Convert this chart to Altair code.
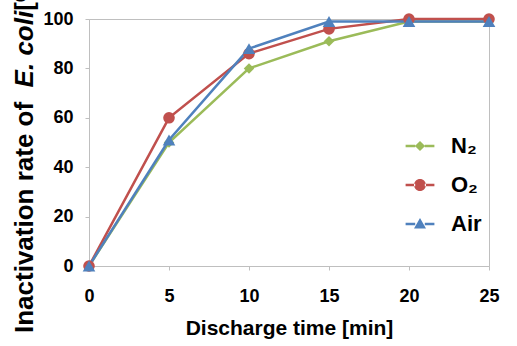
import altair as alt
import pandas as pd

# ---- data ----
series = ["N₂", "O₂", "Air"]
times = [0, 5, 10, 15, 20, 25]
n2_vals = [0, 50, 80, 91, 99, 99]
o2_vals = [0, 60, 86, 96, 100, 100]
air_vals = [0, 51, 88, 99, 99, 99]
colors = ["#9BBB59", "#C0504D", "#4F81BD"]
x_ticks = [0, 5, 10, 15, 20, 25]
y_ticks = [0, 20, 40, 60, 80, 100]
x_title = "Discharge time [min]"
y_title_parts = ["Inactivation rate  of ", "E. coli", " [%]"]

FONT = "Liberation Sans, Arial, sans-serif"

rows = []
for s, vals in zip(series, [n2_vals, o2_vals, air_vals]):
    for t, v in zip(times, vals):
        rows.append({"series": s, "time": t, "value": v})
df = pd.DataFrame(rows)

x_enc = alt.X(
    "time:Q",
    scale=alt.Scale(domain=[0, 25], nice=False),
    axis=alt.Axis(values=x_ticks, title=x_title, tickSize=4, labelPadding=17,
                  titleBaseline="alphabetic", titleY=68, labelFlush=False),
)
y_enc = alt.Y(
    "value:Q",
    scale=alt.Scale(domain=[0, 100], nice=False),
    axis=alt.Axis(values=y_ticks, title=None, tickSize=4, labelPadding=12, labelFlush=False),
)
color_scale = alt.Scale(domain=series, range=colors)

lines = alt.Chart(df).mark_line(strokeWidth=2.5).encode(
    x=x_enc, y=y_enc,
    color=alt.Color("series:N", scale=color_scale, legend=None),
)

points = alt.Chart(df).mark_point(filled=True, opacity=1).encode(
    x=x_enc, y=y_enc,
    color=alt.Color("series:N", scale=color_scale, legend=None),
    shape=alt.Shape("series:N", scale=alt.Scale(domain=series, range=["diamond", "circle", "triangle-up"]), legend=None),
    size=alt.Size("series:N", scale=alt.Scale(domain=series, range=[110, 160, 170]), legend=None),
)

# legend symbols: short line segment + marker
seg = "M-2.4,-0.2 H-0.8 V0.2 H-2.4 Z M0.8,-0.2 H2.4 V0.2 H0.8 Z "
legend_paths = [
    seg + "M0,-0.85 L0.85,0 L0,0.85 L-0.85,0 Z",
    seg + "M-1,0 A1,1 0 1,0 1,0 A1,1 0 1,0 -1,0 Z",
    seg + "M0,-1 L1,0.75 L-1,0.75 Z",
]
leg = alt.Legend(
    title=None, orient="none", legendX=320, legendY=116, symbolSize=144,
    symbolStrokeWidth=0, labelFont=FONT, labelFontSize=22, labelFontWeight="bold",
    labelColor="black", labelOffset=20, rowPadding=17, padding=0, symbolOpacity=1,
)
legend_layer = alt.Chart(df).transform_filter("false").mark_point(filled=True, opacity=1).encode(
    x=x_enc, y=y_enc,
    color=alt.Color("series:N", scale=color_scale, legend=leg),
    shape=alt.Shape("series:N", scale=alt.Scale(domain=series, range=legend_paths), legend=leg),
)

# y-axis title with italic "E. coli"
title_y = [314, 314 - 245.6, 314 - 245.6 - 76.6]
title_styles = ["normal", "italic", "normal"]
title_layers = []
for part, ypos, style in zip(y_title_parts, title_y, title_styles):
    title_layers.append(
        alt.Chart(pd.DataFrame({"t": [part]})).mark_text(
            angle=270, align="left", baseline="alphabetic", font=FONT, fontSize=26,
            fontWeight="bold", fontStyle=style, color="black",
        ).encode(x=alt.value(-56), y=alt.value(ypos), text="t:N")
    )

chart = alt.layer(lines, points, legend_layer, *title_layers).resolve_scale(
    color="independent", shape="independent", size="independent"
).properties(
    width=400, height=247,
    autosize=alt.AutoSizeParams(type="none"),
    padding={"left": 89, "top": 19, "right": 28, "bottom": 80},
    background="white",
).configure_view(
    stroke="#BFBFBF", strokeWidth=1
).configure_axis(
    grid=False, domainColor="#BFBFBF", tickColor="#BFBFBF",
    labelFont=FONT, labelFontSize=18, labelFontWeight="bold", labelColor="black",
    titleFont=FONT, titleFontSize=21, titleFontWeight="bold", titleColor="black",
)

chart.save("out.html", embed_options={"renderer": "svg", "actions": False})
